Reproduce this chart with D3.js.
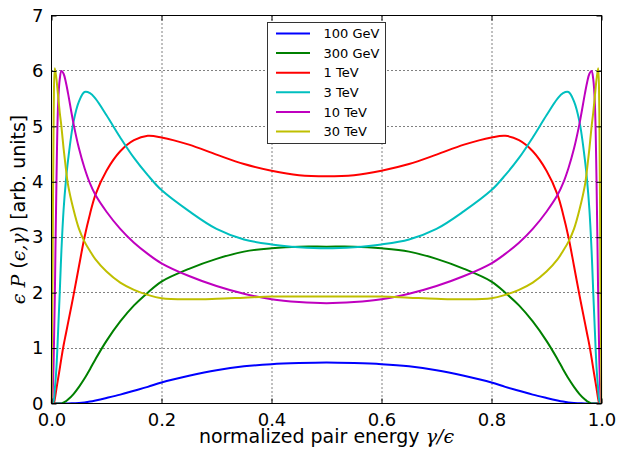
<!DOCTYPE html>
<html>
<head>
<meta charset="utf-8">
<script src="https://cdn.jsdelivr.net/npm/d3@7"></script>
<style>
    body { margin: 0; background: #fff; }
    svg { display: block; font-family: "DejaVu Sans", sans-serif; }
</style>
</head>
<body>
<div id="chart"></div>
<script>
/* values */
var xValues = [0, 0.002, 0.004, 0.006, 0.009, 0.012, 0.015, 0.018, 0.022, 0.026, 0.03, 0.04, 0.05, 0.06, 0.07, 0.08, 0.1, 0.125, 0.15, 0.175, 0.2, 0.25, 0.3, 0.35, 0.4, 0.45, 0.5,
    0.55, 0.6, 0.65, 0.7, 0.75, 0.8, 0.825, 0.85, 0.875, 0.9, 0.92, 0.93, 0.94, 0.95, 0.96, 0.97, 0.974, 0.978, 0.982, 0.985, 0.988, 0.991, 0.994, 0.996, 0.998, 1];

var gev100 = [0, 0, 0, 0, 0, 0, 0, 0, 0, 0, 0, 0.005, 0.01, 0.02, 0.035, 0.055, 0.1, 0.16, 0.23, 0.3, 0.38, 0.5, 0.6, 0.67, 0.71, 0.73, 0.74,
    0.73, 0.71, 0.67, 0.6, 0.5, 0.38, 0.3, 0.23, 0.16, 0.1, 0.055, 0.035, 0.02, 0.01, 0.005, 0, 0, 0, 0, 0, 0, 0, 0, 0, 0, 0];
var gev300 = [0, 0, 0, 0, 0, 0, 0, 0, 0.02, 0.04, 0.07, 0.17, 0.3, 0.45, 0.62, 0.8, 1.13, 1.48, 1.77, 2.0, 2.2, 2.43, 2.61, 2.74, 2.8, 2.83, 2.83,
    2.83, 2.8, 2.74, 2.61, 2.43, 2.2, 2.0, 1.77, 1.48, 1.13, 0.8, 0.62, 0.45, 0.3, 0.17, 0.07, 0.04, 0.02, 0, 0, 0, 0, 0, 0, 0, 0];
var tev1 = [0, 0, 0, 0.08, 0.27, 0.45, 0.63, 0.82, 1.05, 1.25, 1.45, 1.95, 2.48, 3.0, 3.42, 3.77, 4.2, 4.55, 4.75, 4.83, 4.8, 4.67, 4.49, 4.32, 4.2, 4.12, 4.1,
    4.12, 4.2, 4.32, 4.49, 4.67, 4.8, 4.83, 4.75, 4.55, 4.2, 3.77, 3.42, 3.0, 2.48, 1.95, 1.45, 1.25, 1.05, 0.82, 0.63, 0.45, 0.27, 0.08, 0, 0, 0];
var tev3 = [0, 0, 0.05, 0.25, 0.65, 1.3, 2.0, 2.75, 3.5, 4.0, 4.38, 5.08, 5.45, 5.62, 5.6, 5.5, 5.2, 4.8, 4.43, 4.12, 3.85, 3.47, 3.15, 2.96, 2.87, 2.82, 2.8,
    2.82, 2.87, 2.96, 3.15, 3.47, 3.85, 4.12, 4.43, 4.8, 5.2, 5.5, 5.6, 5.62, 5.45, 5.08, 4.38, 4.0, 3.5, 2.75, 2.0, 1.3, 0.65, 0.25, 0.05, 0, 0];
var tev10 = [0, 0.2, 0.8, 1.9, 4.0, 5.4, 5.85, 6.0, 5.95, 5.8, 5.6, 5.05, 4.6, 4.25, 3.97, 3.76, 3.46, 3.15, 2.9, 2.7, 2.53, 2.3, 2.12, 1.98, 1.88, 1.83, 1.81,
    1.83, 1.88, 1.98, 2.12, 2.3, 2.53, 2.7, 2.9, 3.15, 3.46, 3.76, 3.97, 4.25, 4.6, 5.05, 5.6, 5.8, 5.95, 6.0, 5.85, 5.4, 4.0, 1.9, 0.8, 0.2, 0];
var tev30 = [0, 2.5, 5.3, 6.05, 5.85, 5.55, 5.25, 5.0, 4.6, 4.25, 3.95, 3.5, 3.15, 2.92, 2.75, 2.6, 2.38, 2.18, 2.05, 1.96, 1.9, 1.88, 1.89, 1.91, 1.93, 1.93, 1.93,
    1.93, 1.93, 1.91, 1.89, 1.88, 1.9, 1.96, 2.05, 2.18, 2.38, 2.6, 2.75, 2.92, 3.15, 3.5, 3.95, 4.25, 4.6, 5.0, 5.25, 5.55, 5.85, 6.05, 5.3, 2.5, 0];

var seriesLabels = ["100 GeV", "300 GeV", "1 TeV", "3 TeV", "10 TeV", "30 TeV"];
var seriesValues = [gev100, gev300, tev1, tev3, tev10, tev30];
var seriesColors = ["#0000ff", "#008000", "#ff0000", "#00bfbf", "#bf00bf", "#bfbf00"];

var xTicks = [0, 0.2, 0.4, 0.6, 0.8, 1.0];
var yTicks = [0, 1, 2, 3, 4, 5, 6, 7];

var chartWidth = 622,
    chartHeight = 453;
var margin = {top: 15.5, right: 20.5, bottom: 49.5, left: 51.5};
var innerWidth = chartWidth - margin.left - margin.right;
var innerHeight = chartHeight - margin.top - margin.bottom;

var svg = d3.select("#chart").append("svg")
            .attr("width", chartWidth)
            .attr("height", chartHeight);
svg.append("clipPath")
    .attr("id", "plot-clip")
    .append("rect")
    .attr("x", -1)
    .attr("y", -1)
    .attr("width", innerWidth + 2)
    .attr("height", innerHeight + 1);
var chartGroup = svg.append("g")
            .attr("transform", "translate(" + margin.left + "," + margin.top + ")");

var xScale = d3.scaleLinear().domain([0, 1]).range([0, innerWidth]);
var yScale = d3.scaleLinear().domain([0, 7]).range([innerHeight, 0]);

// dotted grid
var grid = chartGroup.append("g")
            .attr("stroke", "#000")
            .attr("stroke-width", 1)
            .attr("stroke-dasharray", "1,3");
grid.selectAll("line.gx").data(xTicks.slice(1, -1))
    .enter().append("line")
    .attr("x1", function(d) { return Math.round(xScale(d)) + 0.5; })
    .attr("x2", function(d) { return Math.round(xScale(d)) + 0.5; })
    .attr("y1", 0)
    .attr("y2", innerHeight);
grid.selectAll("line.gy").data(yTicks.slice(1, -1))
    .enter().append("line")
    .attr("x1", 0)
    .attr("x2", innerWidth)
    .attr("y1", function(d) { return Math.round(yScale(d)); })
    .attr("y2", function(d) { return Math.round(yScale(d)); });

// curves
var line = d3.line()
            .x(function(d) { return xScale(d[0]); })
            .y(function(d) { return yScale(d[1]); })
            .curve(d3.curveCatmullRom.alpha(0.5));
var dataGroup = chartGroup.append("g")
            .attr("clip-path", "url(#plot-clip)");
seriesValues.forEach(function(values, i) {
    var points = xValues.map(function(x, j) { return [x, values[j]]; });
    dataGroup.append("path")
        .attr("d", line(points))
        .attr("fill", "none")
        .attr("stroke", seriesColors[i])
        .attr("stroke-width", 2)
        .attr("stroke-linejoin", "round");
});

// axes with inward ticks on all four sides
var tickSize = 5;
var bottomAxis = chartGroup.append("g")
            .attr("transform", "translate(0," + innerHeight + ")")
            .call(d3.axisBottom(xScale).tickValues(xTicks).tickFormat(d3.format(".1f")).tickSizeInner(-tickSize).tickSizeOuter(0).tickPadding(10));
var topAxis = chartGroup.append("g")
            .call(d3.axisTop(xScale).tickValues(xTicks).tickFormat("").tickSizeInner(-tickSize).tickSizeOuter(0));
var leftAxis = chartGroup.append("g")
            .call(d3.axisLeft(yScale).tickValues(yTicks).tickFormat(d3.format("d")).tickSizeInner(-tickSize).tickSizeOuter(0).tickPadding(8));
var rightAxis = chartGroup.append("g")
            .attr("transform", "translate(" + innerWidth + ",0)")
            .call(d3.axisRight(yScale).tickValues(yTicks).tickFormat("").tickSizeInner(-tickSize).tickSizeOuter(0));
[bottomAxis, topAxis, leftAxis, rightAxis].forEach(function(ax) {
    ax.select(".domain").remove();
    ax.selectAll(".tick line").attr("stroke", "#000").attr("stroke-width", 1);
    ax.selectAll("text")
        .attr("fill", "#000")
        .style("font-family", "DejaVu Sans")
        .style("font-size", "18px");
});

chartGroup.append("rect")
    .attr("width", innerWidth)
    .attr("height", innerHeight)
    .attr("fill", "none")
    .attr("stroke", "#000")
    .attr("stroke-width", 1);

// axis labels
var xLabel = svg.append("text")
            .attr("x", margin.left + innerWidth / 2)
            .attr("y", 443)
            .attr("text-anchor", "middle")
            .style("font-size", "19px")
            .attr("fill", "#000");
xLabel.append("tspan").text("normalized pair energy ");
xLabel.append("tspan").style("font-family", "DejaVu Serif").style("font-style", "italic").text("\u03b3/\u03f5");

var yLabel = svg.append("text")
            .attr("transform", "translate(25," + (margin.top + innerHeight / 2) + ") rotate(-90)")
            .attr("text-anchor", "middle")
            .style("font-size", "19px")
            .attr("fill", "#000");
yLabel.append("tspan").style("font-family", "DejaVu Serif").style("font-style", "italic").text("\u03f5 P");
yLabel.append("tspan").text(" (");
yLabel.append("tspan").style("font-family", "DejaVu Serif").style("font-style", "italic").text("\u03f5,\u03b3");
yLabel.append("tspan").text(") [arb. units]");

// legend
var legend = svg.append("g")
            .attr("transform", "translate(267.5,22.5)");
legend.append("rect")
    .attr("width", 118)
    .attr("height", 121)
    .attr("fill", "#fff")
    .attr("stroke", "#333")
    .attr("stroke-width", 1);
var rows = legend.selectAll("g.row").data(seriesLabels)
            .enter().append("g")
            .attr("transform", function(d, i) { return "translate(0," + (11 + i * 19.6) + ")"; });
rows.append("line")
    .attr("x1", 8.5)
    .attr("x2", 42.5)
    .attr("stroke", function(d, i) { return seriesColors[i]; })
    .attr("stroke-width", 2);
rows.append("text")
    .attr("x", 56)
    .attr("dy", "0.36em")
    .style("font-size", "13px")
    .attr("fill", "#000")
    .text(function(d) { return d; });
</script>
</body>
</html>
